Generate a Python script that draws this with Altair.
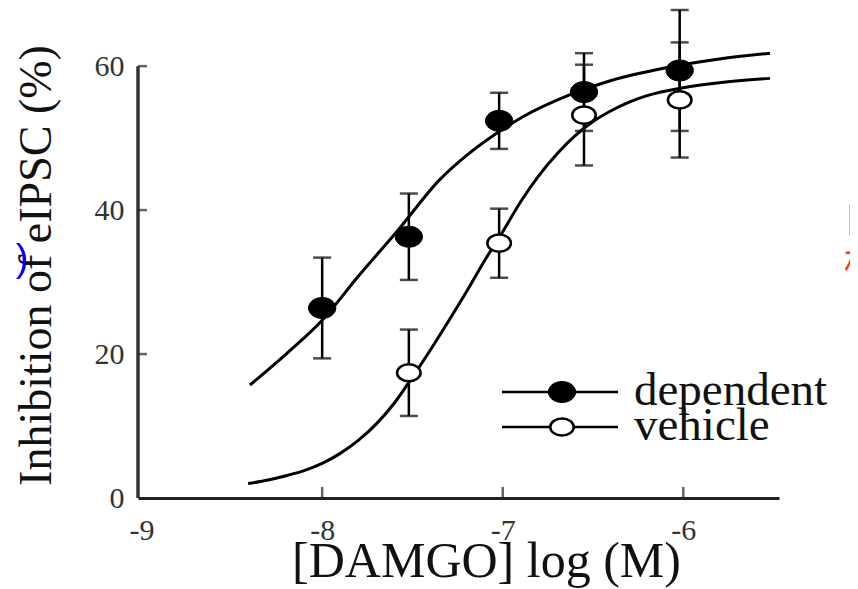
import altair as alt
import pandas as pd

# ---------------- data ----------------
series_names = ["dependent", "vehicle"]

dep_x = [-8.0, -7.52, -7.02, -6.55, -6.02]
dep_mean = [26.4, 36.3, 52.4, 56.4, 59.4]
dep_sem = [7.0, 6.0, 3.9, 5.4, 8.4]

veh_x = [-7.52, -7.02, -6.55, -6.02]
veh_mean = [17.4, 35.4, 53.2, 55.3]
veh_sem = [6.0, 4.8, 7.0, 8.0]

dep_curve_x = [-8.40, -8.2, -8.0, -7.8, -7.58, -7.35, -7.2, -7.05, -6.9, -6.63, -6.4, -6.11, -5.8, -5.52]
dep_curve_y = [15.7, 20.0, 24.7, 30.8, 37.2, 44.2, 47.6, 50.4, 52.8, 56.0, 58.0, 59.7, 61.0, 61.8]

veh_curve_x = [-8.41, -8.3, -8.2, -8.1, -8.0, -7.9, -7.8, -7.7, -7.6, -7.5, -7.4, -7.3, -7.2, -7.1,
               -7.0, -6.9, -6.8, -6.7, -6.6, -6.5, -6.4, -6.3, -6.2, -6.0, -5.8, -5.52]
veh_curve_y = [2.0, 2.5, 3.1, 3.8, 4.8, 6.2, 8.0, 10.3, 13.2, 16.8, 20.6, 24.6, 28.7, 33.0,
               37.0, 41.2, 44.8, 47.8, 50.3, 52.3, 53.8, 55.0, 55.9, 57.0, 57.7, 58.3]

x_ticks = [-9, -8, -7, -6]
y_ticks = [0, 20, 40, 60]
x_domain = [-9.02, -5.47]
y_domain = [0, 67.8]

x_title = "[DAMGO] log (M)"
y_title = "Inhibition of eIPSC (%)"
stray_blue = [")"]
stray_red = ["目", "相"]

# ---------------- tables ----------------
points = pd.concat([
    pd.DataFrame({"x": dep_x, "m": dep_mean, "s": dep_sem, "series": series_names[0]}),
    pd.DataFrame({"x": veh_x, "m": veh_mean, "s": veh_sem, "series": series_names[1]}),
], ignore_index=True)

curves = pd.concat([
    pd.DataFrame({"x": dep_curve_x, "y": dep_curve_y, "series": series_names[0]}),
    pd.DataFrame({"x": veh_curve_x, "y": veh_curve_y, "series": series_names[1]}),
], ignore_index=True)

legend_df = pd.DataFrame({"label": series_names, "k": list(range(len(series_names)))})

xs = alt.Scale(domain=x_domain, nice=False, zero=False)
ys = alt.Scale(domain=y_domain, nice=False, zero=False)

SERIF = "Liberation Serif"
W, H = 641, 488

x_axis = alt.Axis(
    values=x_ticks, title=x_title, titleFont=SERIF, titleFontSize=50,
    titleFontWeight="normal", titleColor="#111", titleX=348, titleY=78,
    titleAlign="center", titleBaseline="alphabetic",
    labelFont=SERIF, labelFontSize=30, labelColor="#333", labelPadding=17,
    labelExpr="datum.value + ''", labelFlush=False, labelOverlap=False,
    ticks=False, tickSize=0, domain=True, domainColor="#222", domainWidth=3,
    grid=False,
)
y_axis = alt.Axis(
    values=y_ticks, title=y_title, titleFont=SERIF, titleFontSize=46,
    titleFontWeight="normal", titleColor="#111", titleX=-102, titleY=255,
    titleAlign="center", titleBaseline="middle", titleAngle=270,
    labelFont=SERIF, labelFontSize=30, labelColor="#333", labelPadding=14,
    labelFlush=False, labelOverlap=False,
    ticks=False, tickSize=0, domain=False, grid=False,
)

ELL_FILLED = "M-1.3,0A1.3,1,0,1,1,1.3,0A1.3,1,0,1,1,-1.3,0Z"
ELL_OPEN = "M-1.12,0A1.12,0.82,0,1,1,1.12,0A1.12,0.82,0,1,1,-1.12,0Z"
FILLS = ["#000", "#fff"]
SHAPES = [ELL_FILLED, ELL_OPEN]
STROKES = [1, 2.5]

# curves
curve_layer = alt.Chart(curves).mark_line(
    color="#000", strokeWidth=3, interpolate="monotone"
).encode(
    x=alt.X("x:Q", scale=xs, axis=x_axis),
    y=alt.Y("y:Q", scale=ys, axis=y_axis),
    detail="series:N",
)

# error bars
err_base = alt.Chart(points).transform_calculate(
    lo="datum.m - datum.s", hi="datum.m + datum.s"
)
err_rule = err_base.mark_rule(color="#000", strokeWidth=2.5).encode(
    x=alt.X("x:Q", scale=xs, axis=x_axis),
    y=alt.Y("lo:Q", scale=ys, axis=y_axis),
    y2="hi:Q",
)
cap_lo = err_base.mark_tick(color="#000", thickness=2.5, size=18, orient="horizontal").encode(
    x=alt.X("x:Q", scale=xs, axis=x_axis),
    y=alt.Y("lo:Q", scale=ys, axis=y_axis),
)
cap_hi = err_base.mark_tick(color="#000", thickness=2.5, size=18, orient="horizontal").encode(
    x=alt.X("x:Q", scale=xs, axis=x_axis),
    y=alt.Y("hi:Q", scale=ys, axis=y_axis),
)

# markers
def pts_layer(i):
    return alt.Chart(points).transform_filter(
        alt.datum.series == series_names[i]
    ).mark_point(
        shape=SHAPES[i], size=441, filled=True, fill=FILLS[i], stroke="#000",
        strokeWidth=STROKES[i], opacity=1,
    ).encode(
        x=alt.X("x:Q", scale=xs, axis=x_axis),
        y=alt.Y("m:Q", scale=ys, axis=y_axis),
    )

dep_pts = pts_layer(0)
veh_pts = pts_layer(1)

# legend (drawn with marks in pixel space inside the plot)
leg_base = alt.Chart(legend_df).transform_calculate(
    ly="datum.k * 35 + 382", ty="datum.k * 35 + 395"
)
leg_lines = leg_base.mark_rule(color="#000", strokeWidth=2.5).encode(
    x=alt.value(364), x2=alt.value(480), y=alt.Y("ly:Q", scale=None),
)
def leg_marker(i):
    return leg_base.transform_filter(alt.datum.k == i).mark_point(
        shape=SHAPES[i], size=441, filled=True, fill=FILLS[i], stroke="#000",
        strokeWidth=STROKES[i], opacity=1,
    ).encode(x=alt.value(424), y=alt.Y("ly:Q", scale=None))
leg_text = leg_base.mark_text(
    font=SERIF, fontSize=47, color="#111", align="left", baseline="alphabetic"
).encode(text="label:N", x=alt.value(496), y=alt.Y("ty:Q", scale=None))

# inward axis ticks
ytick_df = pd.DataFrame({"v": y_ticks[1:]})
ytick_layer = alt.Chart(ytick_df).mark_tick(
    color="#222", thickness=2.5, size=9, orient="horizontal"
).encode(
    x=alt.value(4.5),
    y=alt.Y("v:Q", scale=ys, axis=y_axis),
)
xtick_df = pd.DataFrame({"v": x_ticks[1:]})
xtick_layer = alt.Chart(xtick_df).mark_tick(
    color="#222", thickness=2.5, size=11, orient="vertical"
).encode(
    x=alt.X("v:Q", scale=xs, axis=x_axis),
    y=alt.value(H - 5.5),
)

# y axis line from 0 to 60
yline_df = pd.DataFrame({"lo": [y_ticks[0]], "hi": [y_ticks[-1]]})
yline_layer = alt.Chart(yline_df).mark_rule(color="#333", strokeWidth=3.5).encode(
    x=alt.value(0),
    y=alt.Y("lo:Q", scale=ys, axis=y_axis),
    y2="hi:Q",
)

# stray slide fragments
blue_layer = alt.Chart(pd.DataFrame({"t": stray_blue})).mark_text(
    font="Liberation Sans", fontSize=38, color="#0000ff", align="center", baseline="middle"
).encode(text="t:N", x=alt.value(-116), y=alt.value(250))

red_df = pd.DataFrame({"t": stray_red, "k": [0, 1]})
red_layer = alt.Chart(red_df).transform_calculate(
    py="datum.k * 42 + 212"
).mark_text(
    font="Noto Sans CJK SC", fontSize=36, color="#ff3a00", align="left", baseline="middle"
).encode(text="t:N", x=alt.value(706), y=alt.Y("py:Q", scale=None))

chart = alt.layer(
    yline_layer, ytick_layer, xtick_layer, curve_layer, err_rule, cap_lo, cap_hi,
    dep_pts, veh_pts, leg_lines, leg_marker(0), leg_marker(1), leg_text,
    blue_layer, red_layer,
).properties(
    width=W, height=H,
    padding={"left": 130, "top": 2, "right": 71, "bottom": 90},
    autosize=alt.AutoSizeParams(type="none"),
    background="white",
).configure_view(stroke=None)

chart.save("out.html", embed_options={"renderer": "svg", "actions": False})
